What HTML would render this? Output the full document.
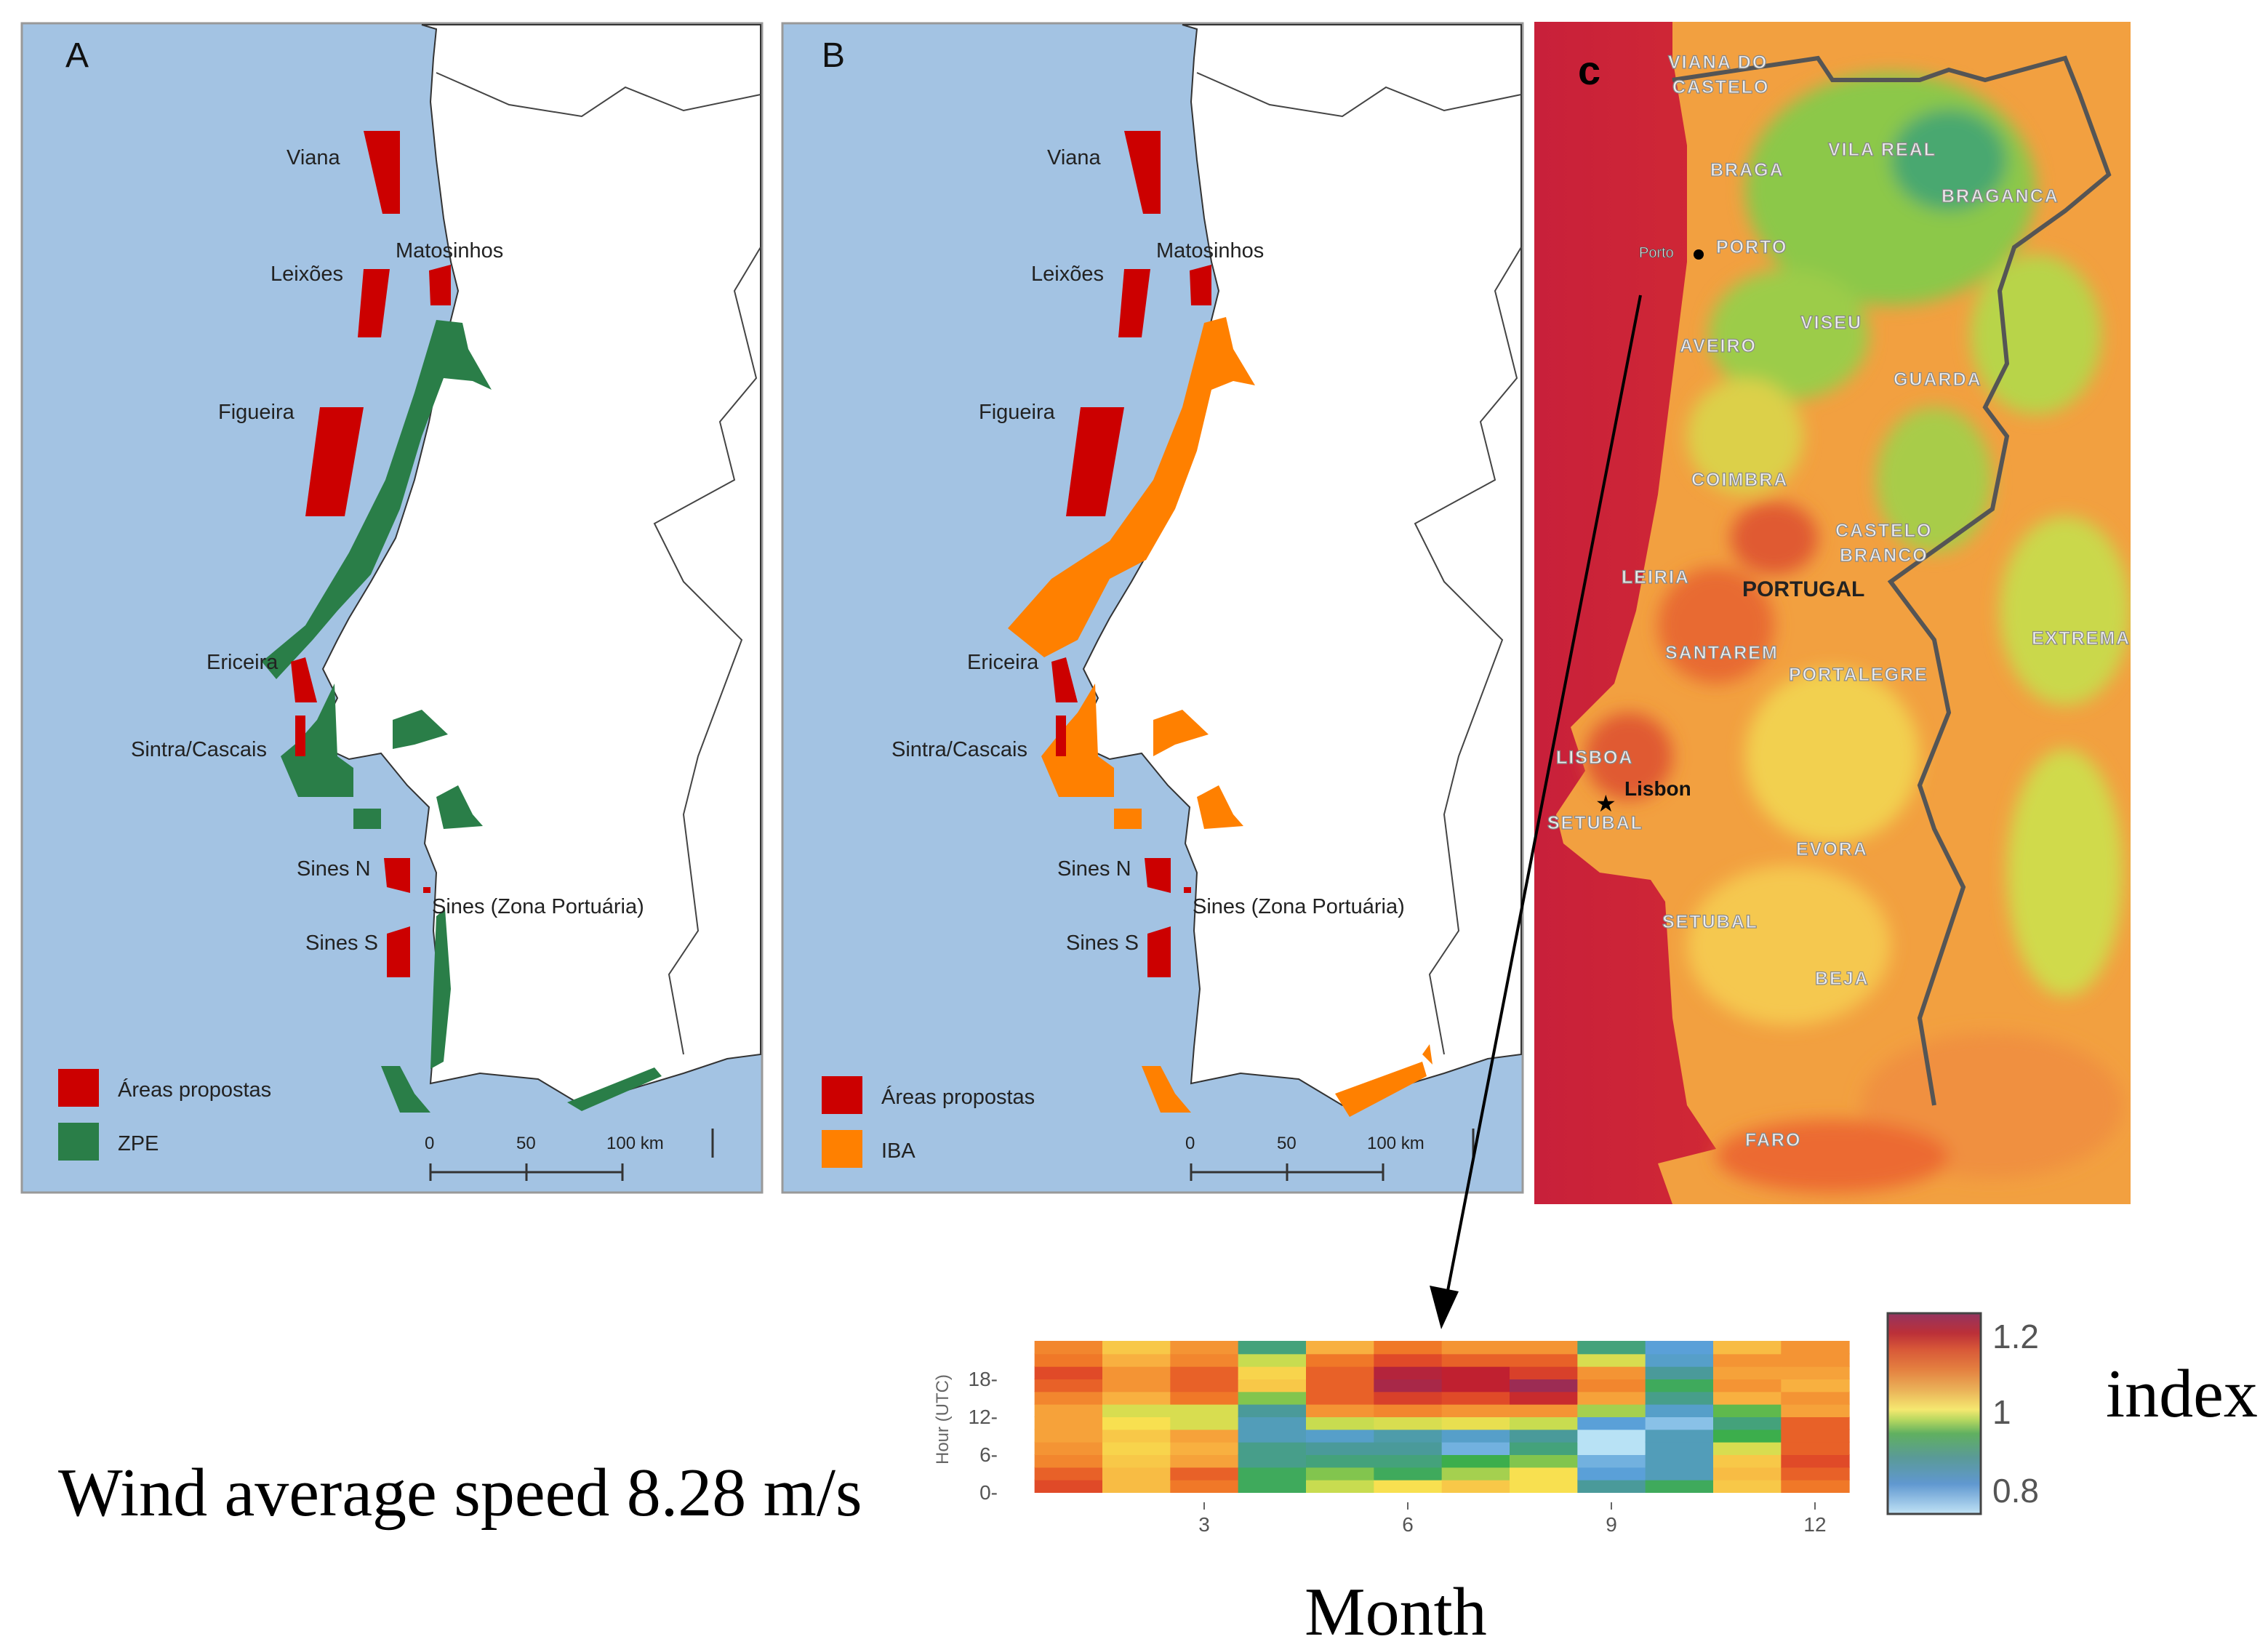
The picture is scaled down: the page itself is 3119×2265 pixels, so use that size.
<!DOCTYPE html>
<html><head><meta charset="utf-8">
<style>
html,body{margin:0;padding:0;background:#fff;}
svg{display:block;}
text{font-family:"Liberation Sans",sans-serif;}
.serif{font-family:"Liberation Serif",serif;}
</style></head>
<body>
<svg id="fig" width="3119" height="2265" viewBox="0 0 1559.5 1132.5" xmlns="http://www.w3.org/2000/svg">
<defs>
  <linearGradient id="seaC" x1="0" x2="1" y1="0" y2="0">
    <stop offset="0" stop-color="#c8203a"/>
    <stop offset="0.6" stop-color="#d83030"/>
    <stop offset="1" stop-color="#ea5a2c"/>
  </linearGradient>
  <linearGradient id="cbar" x1="0" x2="0" y1="1" y2="0">
    <stop offset="0" stop-color="#c0e2f5"/>
    <stop offset="0.15" stop-color="#6098d0"/>
    <stop offset="0.28" stop-color="#5a9a98"/>
    <stop offset="0.4" stop-color="#60b060"/>
    <stop offset="0.47" stop-color="#b8d860"/>
    <stop offset="0.52" stop-color="#f5e870"/>
    <stop offset="0.62" stop-color="#eab058"/>
    <stop offset="0.72" stop-color="#e48040"/>
    <stop offset="0.82" stop-color="#d85838"/>
    <stop offset="0.9" stop-color="#bc3038"/>
    <stop offset="1" stop-color="#943460"/>
  </linearGradient>
  <filter id="blur6"><feGaussianBlur stdDeviation="6"/></filter>
  <clipPath id="clipC"><rect x="1055" y="15" width="410" height="813"/></clipPath>
</defs>

<!-- PANEL A -->
<g>
  <rect x="15" y="16" width="509" height="804" fill="#a3c3e3" stroke="#999" stroke-width="1.5"/>
  <path d="M290,17 L300,20 L298,40 L296,70 L300,110 L305,150 L310,180 L315,200 L305,240 L295,290 L285,330 L272,370 L255,400 L240,425 L232,440 L222,460 L232,480 L222,500 L225,515 L240,522 L262,518 L280,540 L295,555 L292,580 L300,600 L298,640 L302,680 L298,720 L296,745 L330,738 L370,742 L400,760 L430,750 L470,738 L500,728 L523,725 L523,17 Z" fill="#fff" stroke="#333" stroke-width="1"/>
  <path d="M300,50 L350,72 L400,80 L430,60 L470,76 L523,65 M523,170 L505,200 L520,260 L495,290 L505,330 L450,360 L470,400 L510,440 L480,520 L470,560 L480,640 L460,670 L470,725" fill="none" stroke="#444" stroke-width="1"/>
  <g fill="#2a7e48">
    <path d="M300,220 L318,222 L322,240 L338,268 L325,262 L305,260 L290,300 L275,350 L255,395 L232,420 L215,440 L190,467 L180,455 L210,430 L240,380 L265,330 L285,270 Z"/>
    <path d="M193,520 L205,510 L218,495 L230,470 L232,520 L243,528 L243,548 L205,548 Z"/>
    <rect x="243" y="556" width="19" height="14"/>
    <path d="M270,495 L290,488 L308,505 L285,512 L270,515 Z"/>
    <path d="M300,548 L315,540 L325,560 L332,568 L305,570 Z"/>
    <path d="M300,630 L306,625 L310,680 L305,730 L296,735 L298,680 Z"/>
    <path d="M262,733 L275,733 L285,752 L296,765 L275,765 Z"/>
    <path d="M390,758 L450,734 L455,740 L400,764 Z"/>
  </g>
  <g fill="#cc0000">
    <path d="M250,90 L275,90 L275,147 L263,147 Z"/>
    <path d="M250,185 L268,185 L262,232 L246,232 Z"/>
    <path d="M295,186 L310,182 L310,210 L296,210 Z"/>
    <path d="M220,280 L250,280 L237,355 L210,355 Z"/>
    <path d="M200,455 L210,452 L218,483 L203,483 Z"/>
    <rect x="203" y="492" width="7" height="28"/>
    <path d="M264,590 L282,590 L282,614 L266,610 Z"/>
    <path d="M266,642 L282,637 L282,672 L266,672 Z"/>
    <rect x="291" y="610" width="5" height="4"/>
  </g>
  <g font-size="14.5" fill="#222">
    <text x="197" y="113">Viana</text>
    <text x="186" y="193">Leixões</text>
    <text x="272" y="177">Matosinhos</text>
    <text x="150" y="288">Figueira</text>
    <text x="142" y="460">Ericeira</text>
    <text x="90" y="520">Sintra/Cascais</text>
    <text x="204" y="602">Sines N</text>
    <text x="210" y="653">Sines S</text>
    <text x="297" y="628">Sines (Zona Portuária)</text>
  </g>
  <text x="45" y="46" font-size="24" fill="#111">A</text>
  <rect x="40" y="735" width="28" height="26" fill="#cc0000"/>
  <rect x="40" y="772" width="28" height="26" fill="#2a7e48"/>
  <text x="81" y="754" font-size="14.5" fill="#222">Áreas propostas</text>
  <text x="81" y="791" font-size="14.5" fill="#222">ZPE</text>
  <g font-size="12" fill="#222">
    <text x="292" y="790">0</text><text x="355" y="790">50</text><text x="417" y="790">100 km</text>
    <path d="M296,806 L428,806 M296,800 L296,812 M362,800 L362,812 M428,800 L428,812 M490,776 L490,796" stroke="#333" stroke-width="1.5" fill="none"/>
  </g>
</g>

<!-- PANEL B -->
<g>
  <rect x="538" y="16" width="509" height="804" fill="#a3c3e3" stroke="#999" stroke-width="1.5"/>
  <g transform="translate(523,0)">
  <path d="M290,17 L300,20 L298,40 L296,70 L300,110 L305,150 L310,180 L315,200 L305,240 L295,290 L285,330 L272,370 L255,400 L240,425 L232,440 L222,460 L232,480 L222,500 L225,515 L240,522 L262,518 L280,540 L295,555 L292,580 L300,600 L298,640 L302,680 L298,720 L296,745 L330,738 L370,742 L400,760 L430,750 L470,738 L500,728 L523,725 L523,17 Z" fill="#fff" stroke="#333" stroke-width="1"/>
  <path d="M300,50 L350,72 L400,80 L430,60 L470,76 L523,65 M523,170 L505,200 L520,260 L495,290 L505,330 L450,360 L470,400 L510,440 L480,520 L470,560 L480,640 L460,670 L470,725" fill="none" stroke="#444" stroke-width="1"/>
  <g fill="#ff8000">
    <path d="M305,222 L320,218 L325,240 L340,265 L325,262 L310,268 L300,310 L285,350 L265,385 L240,398 L218,440 L195,452 L170,432 L200,398 L240,372 L270,330 L290,280 Z"/>
    <path d="M193,520 L205,505 L218,490 L230,470 L232,520 L243,528 L243,548 L205,548 Z"/>
    <rect x="243" y="556" width="19" height="14"/>
    <path d="M270,495 L290,488 L308,505 L285,512 L270,520 Z"/>
    <path d="M300,548 L315,540 L325,560 L332,568 L305,570 Z"/>
    <path d="M262,733 L275,733 L285,752 L296,765 L275,765 Z"/>
    <path d="M395,752 L455,730 L458,740 L405,768 Z"/>
    <path d="M455,725 L460,718 L462,732 Z"/>
  </g>
  <g fill="#cc0000">
    <path d="M250,90 L275,90 L275,147 L263,147 Z"/>
    <path d="M250,185 L268,185 L262,232 L246,232 Z"/>
    <path d="M295,186 L310,182 L310,210 L296,210 Z"/>
    <path d="M220,280 L250,280 L237,355 L210,355 Z"/>
    <path d="M200,455 L210,452 L218,483 L203,483 Z"/>
    <rect x="203" y="492" width="7" height="28"/>
    <path d="M264,590 L282,590 L282,614 L266,610 Z"/>
    <path d="M266,642 L282,637 L282,672 L266,672 Z"/>
    <rect x="291" y="610" width="5" height="4"/>
  </g>
  <g font-size="14.5" fill="#222">
    <text x="197" y="113">Viana</text>
    <text x="186" y="193">Leixões</text>
    <text x="272" y="177">Matosinhos</text>
    <text x="150" y="288">Figueira</text>
    <text x="142" y="460">Ericeira</text>
    <text x="90" y="520">Sintra/Cascais</text>
    <text x="204" y="602">Sines N</text>
    <text x="210" y="653">Sines S</text>
    <text x="297" y="628">Sines (Zona Portuária)</text>
  </g>
  <text x="42" y="46" font-size="24" fill="#111">B</text>
  <rect x="42" y="740" width="28" height="26" fill="#cc0000"/>
  <rect x="42" y="777" width="28" height="26" fill="#ff8000"/>
  <text x="83" y="759" font-size="14.5" fill="#222">Áreas propostas</text>
  <text x="83" y="796" font-size="14.5" fill="#222">IBA</text>
  <g font-size="12" fill="#222">
    <text x="292" y="790">0</text><text x="355" y="790">50</text><text x="417" y="790">100 km</text>
    <path d="M296,806 L428,806 M296,800 L296,812 M362,800 L362,812 M428,800 L428,812 M490,776 L490,796" stroke="#333" stroke-width="1.5" fill="none"/>
  </g>
  </g>
</g>

<!-- PANEL C -->
<g clip-path="url(#clipC)">
  <rect x="1055" y="15" width="410" height="813" fill="url(#seaC)"/>
  <path d="M1150,15 L1465,15 L1465,828 L1150,828 L1140,800 L1180,790 L1160,760 L1150,700 L1145,620 L1135,605 L1100,600 L1075,580 L1070,560 L1090,530 L1080,500 L1110,470 L1125,420 L1140,340 L1150,260 L1160,180 L1160,100 L1150,40 Z" fill="#f2a040"/>
  <g filter="url(#blur6)">
    <ellipse cx="1300" cy="130" rx="100" ry="80" fill="#8cc84a"/>
    <ellipse cx="1340" cy="110" rx="40" ry="35" fill="#4aa870"/>
    <ellipse cx="1230" cy="230" rx="55" ry="45" fill="#9ccc48"/>
    <ellipse cx="1400" cy="230" rx="45" ry="55" fill="#b8d44a"/>
    <ellipse cx="1420" cy="420" rx="45" ry="65" fill="#cad84c"/>
    <ellipse cx="1420" cy="600" rx="40" ry="85" fill="#d0da4c"/>
    <ellipse cx="1260" cy="520" rx="60" ry="60" fill="#f2d050"/>
    <ellipse cx="1230" cy="650" rx="70" ry="55" fill="#f5c850"/>
    <ellipse cx="1180" cy="430" rx="40" ry="40" fill="#e86a30"/>
    <ellipse cx="1370" cy="760" rx="90" ry="50" fill="#f09040"/>
    <ellipse cx="1260" cy="795" rx="80" ry="25" fill="#ec6a30"/>
    <ellipse cx="1200" cy="300" rx="40" ry="40" fill="#dcd048"/>
    <ellipse cx="1330" cy="330" rx="40" ry="50" fill="#a8cc48"/>
    <ellipse cx="1220" cy="370" rx="30" ry="25" fill="#e05a30"/>
    <ellipse cx="1120" cy="520" rx="30" ry="30" fill="#e05a30"/>
  </g>
  <path d="M1150,55 L1250,40 L1260,55 L1320,55 L1340,48 L1365,55 L1420,40 L1430,65 L1450,120 L1420,145 L1385,170 L1375,200 L1380,250 L1365,280 L1380,300 L1370,350 L1300,400 L1330,440 L1340,490 L1320,540 L1330,570 L1350,610 L1340,640 L1320,700 L1330,760" fill="none" stroke="#555" stroke-width="3"/>
  <g font-size="12.5" fill="#eee" stroke="#888" stroke-width="0.6" font-weight="bold" letter-spacing="1">
    <text x="1147" y="47">VIANA DO</text><text x="1150" y="64">CASTELO</text>
    <text x="1257" y="107">VILA REAL</text>
    <text x="1176" y="121">BRAGA</text>
    <text x="1335" y="139">BRAGANCA</text>
    <text x="1180" y="174">PORTO</text>
    <text x="1238" y="226">VISEU</text>
    <text x="1155" y="242">AVEIRO</text>
    <text x="1302" y="265">GUARDA</text>
    <text x="1163" y="334">COIMBRA</text>
    <text x="1262" y="369">CASTELO</text><text x="1265" y="386">BRANCO</text>
    <text x="1115" y="401">LEIRIA</text>
    <text x="1397" y="443">EXTREMA</text>
    <text x="1145" y="453">SANTAREM</text>
    <text x="1230" y="468">PORTALEGRE</text>
    <text x="1070" y="525">LISBOA</text>
    <text x="1064" y="570">SETUBAL</text>
    <text x="1235" y="588">EVORA</text>
    <text x="1143" y="638">SETUBAL</text>
    <text x="1248" y="677">BEJA</text>
    <text x="1200" y="788">FARO</text>
  </g>
  <text x="1198" y="410" font-size="15" font-weight="bold" fill="#222">PORTUGAL</text>
  <text x="1127" y="177" font-size="10" fill="#eee" stroke="#555" stroke-width="0.4">Porto</text>
  <circle cx="1168" cy="175" r="3.5" fill="#000"/>
  <text x="1117" y="547" font-size="14" font-weight="bold" fill="#111">Lisbon</text>
  <text x="1097" y="558" font-size="16" fill="#000">★</text>
  <text x="1085" y="58" font-size="28" font-weight="bold" fill="#000">c</text>
</g>

<!-- Arrow -->
<g>
  <line x1="1128" y1="203" x2="995" y2="890" stroke="#000" stroke-width="2"/>
  <path d="M983,884 L1003,888 L991,914 Z" fill="#000"/>
</g>

<!-- Texts -->
<text class="serif" x="40" y="1042" font-size="47" fill="#000">Wind average speed 8.28 m/s</text>
<text class="serif" x="897" y="1124" font-size="47" fill="#000">Month</text>
<text class="serif" x="1448" y="974" font-size="47" fill="#000">index</text>

<!-- Heatmap -->
<g id="heat"></g>
<g>
  <rect x="1298" y="903" width="64" height="138" fill="url(#cbar)" stroke="#444" stroke-width="1.5"/>
  <text x="1370" y="927" font-size="23" fill="#555">1.2</text>
  <text x="1370" y="979" font-size="23" fill="#555">1</text>
  <text x="1370" y="1033" font-size="23" fill="#555">0.8</text>
</g>
</svg>
<script>
const months = [1,2,3,4,5,6,7,8,9,10,11,12];
const hourBins = [0,2,4,6,8,10,12,14,16,18,20,22];
const xTicks = [3,6,9,12];
const yTicks = [0,6,12,18];
// index per month, hour bins from 0h upward
const m1 = [1.12,1.10,1.07,1.06,1.05,1.05,1.05,1.07,1.10,1.12,1.08,1.07];
const m2 = [1.03,1.03,1.02,1.01,1.02,1.00,0.98,1.04,1.06,1.06,1.04,1.02];
const m3 = [1.08,1.10,1.05,1.04,1.05,0.98,0.98,1.08,1.10,1.10,1.07,1.06];
const m4 = [0.92,0.92,0.89,0.89,0.86,0.86,0.88,0.95,1.02,1.01,0.97,0.90];
const m5 = [0.97,0.95,0.90,0.88,0.85,0.97,1.06,1.10,1.10,1.10,1.08,1.04];
const m6 = [1.00,0.92,0.90,0.88,0.87,0.98,1.07,1.13,1.18,1.17,1.12,1.08];
const m7 = [1.02,0.96,0.93,0.83,0.85,0.99,1.06,1.12,1.16,1.16,1.10,1.06];
const m8 = [1.00,1.00,0.95,0.90,0.88,0.97,1.06,1.15,1.19,1.13,1.10,1.06];
const m9 = [0.88,0.84,0.83,0.80,0.80,0.84,0.96,1.05,1.07,1.06,0.98,0.90];
const m10 = [0.92,0.86,0.86,0.86,0.86,0.82,0.85,0.89,0.92,0.88,0.85,0.84];
const m11 = [1.02,1.03,1.02,0.98,0.93,0.90,0.94,1.04,1.06,1.05,1.06,1.03];
const m12 = [1.08,1.10,1.12,1.10,1.10,1.10,1.05,1.06,1.04,1.05,1.06,1.06];
const values = [m1,m2,m3,m4,m5,m6,m7,m8,m9,m10,m11,m12];

const NS = "http://www.w3.org/2000/svg";
const X0 = 688, X1 = 1248, Y0 = 1026, Y1 = 922;
const xScale = m => X0 + (m - 0.5) / 12 * (X1 - X0);
const yScale = h => Y0 - h / 24 * (Y0 - Y1);
const stops = [[0.8,[184,226,245]],[0.84,[90,160,216]],[0.88,[74,154,154]],[0.93,[60,174,76]],[0.97,[200,220,80]],[1.0,[248,224,80]],[1.04,[248,176,64]],[1.08,[240,120,40]],[1.12,[224,74,40]],[1.16,[192,32,48]],[1.2,[144,48,96]]];
function color(v){
  if (v <= stops[0][0]) return `rgb(${stops[0][1]})`;
  for (let i=1;i<stops.length;i++){
    if (v <= stops[i][0]){
      const t=(v-stops[i-1][0])/(stops[i][0]-stops[i-1][0]);
      const c=stops[i-1][1].map((a,k)=>Math.round(a+(stops[i][1][k]-a)*t));
      return `rgb(${c.join(',')})`;
    }
  }
  return `rgb(${stops[stops.length-1][1]})`;
}
const g = document.getElementById('heat');
months.forEach((m,i)=>{
  hourBins.forEach((h,j)=>{
    const r=document.createElementNS(NS,'rect');
    
    
    const xa=xScale(m), xb=xScale(m+1);
    r.setAttribute('x',xa); r.setAttribute('width',xb-xa+0.5);
    r.setAttribute('y',yScale(h+2)); r.setAttribute('height',yScale(h)-yScale(h+2)+0.5);
    r.setAttribute('fill',color(values[i][j]));
    g.appendChild(r);
  });
});
xTicks.forEach(t=>{
  const x=xScale(t+0.5);
  const l=document.createElementNS(NS,'line');
  
  
  l.setAttribute('x1',x);l.setAttribute('x2',x);l.setAttribute('y1',Y0+7);l.setAttribute('y2',Y0+12);
  l.setAttribute('stroke','#666');g.appendChild(l);
  const tx=document.createElementNS(NS,'text');
  
  
  tx.setAttribute('x',x);tx.setAttribute('y',Y0+27);tx.setAttribute('text-anchor','middle');
  tx.setAttribute('font-size','14');tx.setAttribute('fill','#555');tx.textContent=t;g.appendChild(tx);
});
yTicks.forEach(t=>{
  const y=yScale(t);
  const tx=document.createElementNS(NS,'text');
  
  
  tx.setAttribute('x',X0-2);tx.setAttribute('y',y+5);tx.setAttribute('text-anchor','end');
  tx.setAttribute('font-size','14');tx.setAttribute('fill','#555');tx.textContent=t+'-';g.appendChild(tx);
});
const yt=document.createElementNS(NS,'text');


yt.setAttribute('transform',`translate(652,${(Y0+Y1)/2+2}) rotate(-90)`);
yt.setAttribute('text-anchor','middle');yt.setAttribute('font-size','12');yt.setAttribute('fill','#666');
yt.textContent='Hour (UTC)';g.appendChild(yt);
</script>
</body></html>
